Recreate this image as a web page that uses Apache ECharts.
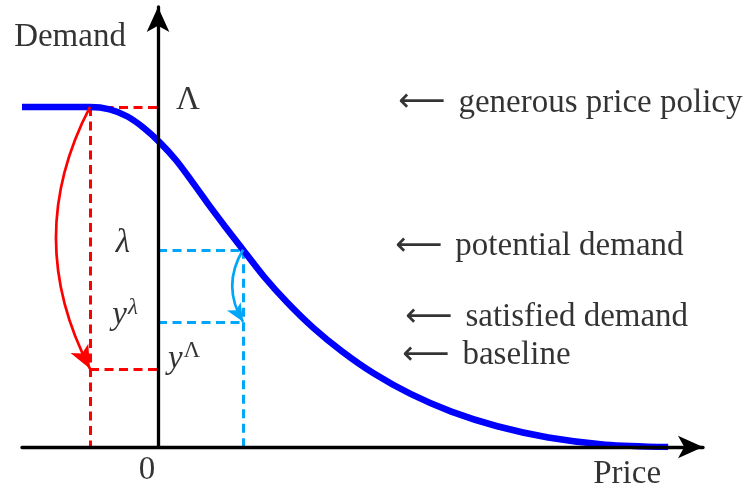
<!DOCTYPE html>
<html>
<head>
<meta charset="utf-8">
<script src="https://cdn.jsdelivr.net/npm/echarts@6/dist/echarts.min.js"></script>
<style>
  html, body { margin: 0; padding: 0; background: #ffffff; }
  #c { width: 744px; height: 491px; }
</style>
</head>
<body>
<div id="c"></div>
<script>
// ---------------- data ----------------
const curvePrice  = [-1.6, -0.8, -0.57, -0.36, -0.17, 0.02, 0.21, 0.39, 0.58, 0.79, 1.0, 1.25, 1.52, 1.82, 2.16, 2.54, 2.97, 3.45, 3.99, 4.59, 5.26, 6.0];
const curveDemand = [1.0, 1.0, 0.993, 0.972, 0.939, 0.896, 0.844, 0.784, 0.718, 0.648, 0.58, 0.5, 0.425, 0.352, 0.282, 0.216, 0.156, 0.104, 0.061, 0.028, 0.007, 0.0];
const levelValues = [1.0, 0.58, 0.368, 0.23];          // Λ, λ, y^λ, y^Λ
const levelNotes  = ['generous price policy', 'potential demand', 'satisfied demand', 'baseline'];
const flatEndPrice = -0.8;     // price where the demand curve leaves the Λ plateau
const potentialPrice = 1.0;    // price where demand equals λ
const axisNames = ['Price', 'Demand'];
const originLabel = '0';

// ---------------- chart ----------------
const chart = echarts.init(document.getElementById('c'), null, { renderer: 'canvas' });
const serif = "'Liberation Serif', 'Times New Roman', serif";
const [LAM, lam, ylam, yLAM] = levelValues;
const RED = '#ff0000';
const CYAN = '#00a6f8';
const BLUE = '#0000ff';

const curveData = curvePrice.map((p, i) => [p, curveDemand[i]]);

const redDashes = [
  { coords: [[flatEndPrice, LAM], [flatEndPrice, 0]] },
  { coords: [[flatEndPrice, LAM], [0, LAM]] },
  { coords: [[flatEndPrice, yLAM], [0, yLAM]] }
];
const blueDashes = [
  { coords: [[0, lam], [potentialPrice, lam]] },
  { coords: [[potentialPrice, lam], [potentialPrice, 0]] },
  { coords: [[0, ylam], [potentialPrice, ylam]] }
];

const rich = {
  u:    { fontFamily: serif, fontSize: 33, color: '#000', verticalAlign: 'bottom' },
  i:    { fontFamily: serif, fontSize: 33, fontStyle: 'italic', color: '#000', verticalAlign: 'bottom' },
  supi: { fontFamily: serif, fontSize: 23, fontStyle: 'italic', color: '#000', verticalAlign: 'bottom', padding: [0, 0, 13, 1] },
  sup:  { fontFamily: serif, fontSize: 23, color: '#000', verticalAlign: 'bottom', padding: [0, 0, 13, 1] },
  arr:  { fontFamily: "'DejaVu Sans'", fontSize: 33, color: '#000', padding: [0, 13, 0, 0] },
  t:    { fontFamily: serif, fontSize: 33, color: '#000' }
};

function txt(x, y, formatter, align) {
  return {
    value: [x, y],
    label: {
      show: true, position: 'inside', formatter: formatter,
      align: align || 'center', verticalAlign: 'middle',
      fontFamily: serif, fontSize: 33, color: '#000', rich: rich
    }
  };
}

const textItems = [
  txt(-1.035, 1.206, axisNames[1]),
  txt(5.518, -0.079, axisNames[0]),
  txt(-0.129, -0.069, originLabel),
  txt(0.353, LAM + 0.019, '{u|Λ}'),
  txt(-0.412, lam + 0.02, '{i|λ}'),
  txt(-0.388, ylam + 0.023, '{i|y}{supi|λ}'),
  txt(0.306, yLAM + 0.032, '{i|y}{sup|Λ}'),
  txt(2.824, LAM + 0.012, '{arr|⟵}{t|' + levelNotes[0] + '}', 'left'),
  txt(2.788, lam + 0.01, '{arr|⟵}{t|' + levelNotes[1] + '}', 'left'),
  txt(2.906, ylam + 0.012, '{arr|⟵}{t|' + levelNotes[2] + '}', 'left'),
  txt(2.871, yLAM + 0.04, '{arr|⟵}{t|' + levelNotes[3] + '}', 'left')
];

const option = {
  animation: false,
  backgroundColor: '#ffffff',
  grid: { left: 22, right: 41, top: 7, bottom: 44, containLabel: false, outerBoundsMode: 'none' },
  xAxis: {
    type: 'value', min: -1.6, max: 6.41, z: 10,
    axisLine: { show: true, onZero: true, symbol: ['none', 'arrow'], symbolSize: [17, 25],
                lineStyle: { color: '#000', width: 3.3 } },
    axisTick: { show: false }, axisLabel: { show: false }, splitLine: { show: false }
  },
  yAxis: {
    type: 'value', min: 0, max: 1.294, z: 10,
    axisLine: { show: true, onZero: true, symbol: ['none', 'arrow'], symbolSize: [17, 25],
                lineStyle: { color: '#000', width: 3.3 } },
    axisTick: { show: false }, axisLabel: { show: false }, splitLine: { show: false }
  },
  series: [
    {
      type: 'lines', coordinateSystem: 'cartesian2d', z: 1, silent: true,
      lineStyle: { color: RED, width: 3, type: [9, 5.5], opacity: 1 },
      data: redDashes
    },
    {
      type: 'lines', coordinateSystem: 'cartesian2d', z: 1, silent: true,
      lineStyle: { color: CYAN, width: 3, type: [9, 5.5], opacity: 1 },
      data: blueDashes
    },
    {
      type: 'line', z: 3, data: curveData, showSymbol: false, symbol: 'none',
      smooth: 0.3,
      lineStyle: { color: BLUE, width: 6.5, cap: 'butt' }
    },
    {
      type: 'lines', coordinateSystem: 'cartesian2d', z: 4, silent: true,
      symbol: ['none', 'arrow'], symbolSize: [0, [15, 23]],
      lineStyle: { color: RED, width: 2.7, opacity: 1, curveness: -0.26 },
      data: [{ coords: [[flatEndPrice, LAM], [flatEndPrice, yLAM]] }]
    },
    {
      type: 'lines', coordinateSystem: 'cartesian2d', z: 4, silent: true,
      symbol: ['none', 'arrow'], symbolSize: [0, [12, 18]],
      lineStyle: { color: CYAN, width: 2.7, opacity: 1, curveness: -0.3 },
      data: [{ coords: [[potentialPrice, lam], [potentialPrice, ylam]] }]
    },
    {
      type: 'scatter', z: 5, symbolSize: 1, clip: false, silent: true,
      itemStyle: { color: 'rgba(0,0,0,0)' },
      data: textItems
    }
  ]
};
chart.setOption(option);
</script>
</body>
</html>
